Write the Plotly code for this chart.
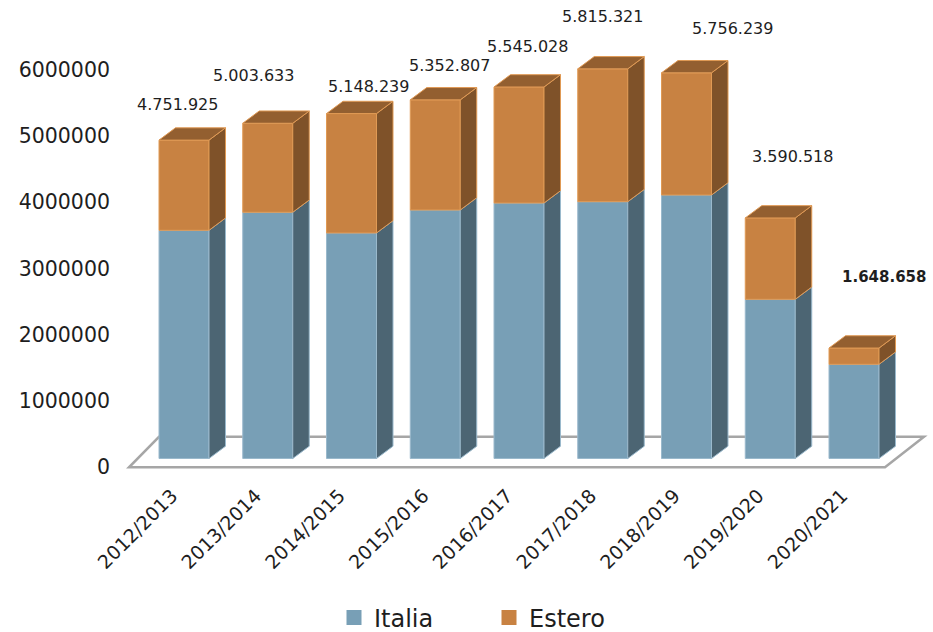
import plotly.graph_objects as go

# ---------------- data ----------------
categories = ["2012/2013", "2013/2014", "2014/2015", "2015/2016", "2016/2017",
              "2017/2018", "2018/2019", "2019/2020", "2020/2021"]
totali = [4751925, 5003633, 5148239, 5352807, 5545028, 5815321, 5756239, 3590518, 1648658]
italia = [3406000, 3675000, 3366000, 3709000, 3813000, 3833000, 3933000, 2376000, 1406000]
estero = [t - i for t, i in zip(totali, italia)]
y_ticks = [0, 1000000, 2000000, 3000000, 4000000, 5000000, 6000000]

# manual data-label placement (offset from category, height in axis units)
label_dx = [-0.072, -0.176, 0.197, 0.176, 0.107, -0.009, 0.555, 0.26, 0.36]
label_y = [5472000, 5917000, 5741000, 6056000, 6354000, 6807000, 6621000, 4685000, 2870000]
label_bold = [False] * 8 + [True]

# ---------------- style ----------------
FONT = "DejaVu Sans"
C_IT, C_IT_SIDE, C_IT_EDGE = "#789fb6", "#4c6573", "#9ab9cc"
C_ES, C_ES_SIDE, C_ES_TOP, C_ES_EDGE = "#c88242", "#7f5229", "#935f30", "#e09a55"
TXT = "#1e1e1e"

W, H = 933, 632
L, R, T, B = 125, 930, 5, 480
PX_CAT = 83.75           # px per category
X0_PX = 184              # px of category 0
AX_ZERO, AX_PPM = 467.3, 66.3   # main axis: px of 0, px per million
BAR_ZERO, BAR_PPM = 458.5, 67.0  # bar plane

xr = [(L - X0_PX) / PX_CAT, (R - X0_PX) / PX_CAT]
yr = [(AX_ZERO - B) / AX_PPM * 1e6, (AX_ZERO - T) / AX_PPM * 1e6]
y2r = [(BAR_ZERO - B) / BAR_PPM * 1e6, (BAR_ZERO - T) / BAR_PPM * 1e6]

BW = 0.597
DX = 16.5 / PX_CAT
DY = 12.3 / BAR_PPM * 1e6

xs = list(range(len(categories)))
fig = go.Figure()

# front faces
fig.add_trace(go.Bar(x=xs, y=italia, width=BW, marker=dict(color=C_IT, line=dict(color=C_IT_EDGE, width=1)),
                     yaxis="y2", showlegend=False, hoverinfo="skip"))
fig.add_trace(go.Bar(x=xs, y=estero, base=italia, width=BW,
                     marker=dict(color=C_ES, line=dict(color=C_ES_EDGE, width=1)),
                     yaxis="y2", showlegend=False, hoverinfo="skip"))


def poly_trace(pts_list, fill, edge):
    px, py = [], []
    for pts in pts_list:
        for (a, b) in pts:
            px.append(a)
            py.append(b)
        px.append(pts[0][0])
        py.append(pts[0][1])
        px.append(None)
        py.append(None)
    return go.Scatter(x=px, y=py, mode="lines", fill="toself", fillcolor=fill,
                      line=dict(color=edge, width=1), yaxis="y2", showlegend=False,
                      hoverinfo="skip")


it_side, es_side, es_top = [], [], []
for i, (it, tot) in enumerate(zip(italia, totali)):
    xl, xrr = i - BW / 2, i + BW / 2
    it_side.append([(xrr, 0), (xrr + DX, DY), (xrr + DX, it + DY), (xrr, it)])
    es_side.append([(xrr, it), (xrr + DX, it + DY), (xrr + DX, tot + DY), (xrr, tot)])
    es_top.append([(xl, tot), (xl + DX, tot + DY), (xrr + DX, tot + DY), (xrr, tot)])

fig.add_trace(poly_trace(it_side, C_IT_SIDE, C_IT_EDGE))
fig.add_trace(poly_trace(es_side, C_ES_SIDE, C_ES_EDGE))
fig.add_trace(poly_trace(es_top, C_ES_TOP, C_ES_EDGE))

# legend entries
fig.add_trace(go.Scatter(x=[None], y=[None], mode="markers", name="Italia",
                         marker=dict(symbol="square", size=15, color=C_IT)))
fig.add_trace(go.Scatter(x=[None], y=[None], mode="markers", name="Estero",
                         marker=dict(symbol="square", size=15, color=C_ES)))

# floor
FLOOR_D = 30.5 / AX_PPM * 1e6
fx = [(129 - X0_PX) / PX_CAT, (885 - X0_PX) / PX_CAT, (924 - X0_PX) / PX_CAT, (159 - X0_PX) / PX_CAT]
fy = [0, 0, FLOOR_D, FLOOR_D]
path = "M " + " L ".join(f"{a},{b}" for a, b in zip(fx, fy)) + " Z"
fig.add_shape(type="path", path=path, xref="x", yref="y", layer="below",
              line=dict(color="#a6a6a6", width=2.5), fillcolor="white")

# data labels
for i, tot in enumerate(totali):
    txt = f"{tot:,}".replace(",", ".")
    fig.add_annotation(x=i + label_dx[i], y=label_y[i], xref="x", yref="y",
                       text=f"<b>{txt}</b>" if label_bold[i] else txt, showarrow=False,
                       font=dict(family=FONT, size=15 if label_bold[i] else 16, color=TXT))

fig.update_layout(
    width=W, height=H,
    margin=dict(l=L, r=W - R, t=T, b=H - B, autoexpand=False),
    paper_bgcolor="white", plot_bgcolor="white",
    barmode="overlay",
    font=dict(family=FONT, color=TXT),
    xaxis=dict(range=xr, tickmode="array", tickvals=xs, ticktext=categories, tickangle=-45,
               tickfont=dict(family=FONT, size=19, color=TXT), showgrid=False, zeroline=False,
               showline=False, ticks="", automargin=False, ticklabelshift=-12),
    yaxis=dict(range=yr, tickmode="array", tickvals=y_ticks, tickformat="d",
               tickfont=dict(family=FONT, size=20.5, color=TXT), showgrid=False, zeroline=False,
               showline=False, ticks="", ticklabelstandoff=14, automargin=False),
    yaxis2=dict(range=y2r, overlaying="y", visible=False),
    legend=dict(orientation="h", x=(334 - L) / (R - L), xanchor="left",
                y=(B - 618) / (B - T), yanchor="middle", entrywidth=110,
                font=dict(family=FONT, size=24, color=TXT), itemwidth=30),
)

fig.write_html("out.html", config={"displayModeBar": False},
               post_script="document.body.style.margin='0';document.body.style.padding='0';")
